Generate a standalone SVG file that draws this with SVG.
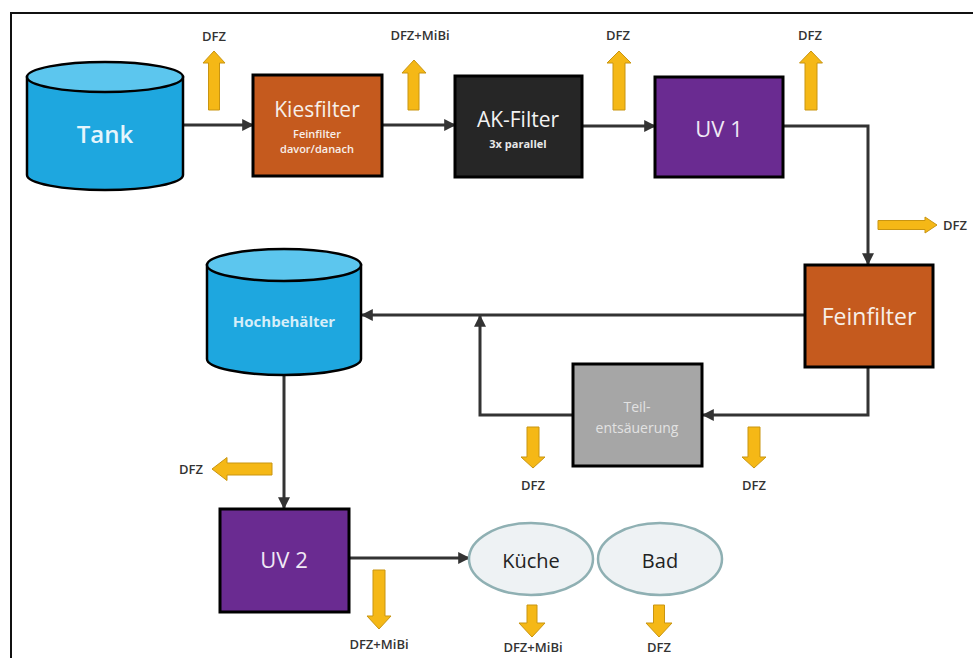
<svg xmlns="http://www.w3.org/2000/svg" width="973" height="658" viewBox="0 0 973 658">
  <defs>
    <marker id="head" viewBox="0 0 10 10" refX="9" refY="5" markerWidth="4" markerHeight="4" orient="auto" markerUnits="strokeWidth">
      <path d="M0,0 L10,5 L0,10 Z" fill="#333"/>
    </marker>
    <style>
      text { font-family: "Open Sans", "Liberation Sans", sans-serif; }
      .frame { fill: none; stroke: #111; stroke-width: 2; }
      .edge { fill: none; stroke: #333; stroke-width: 3; marker-end: url(#head); }
      .box { stroke: #000; stroke-width: 3; }
      .drum { fill: #1ea7df; stroke: #000; stroke-width: 2.5; }
      .drum-top { fill: #5cc6ee; stroke: #000; stroke-width: 2.5; }
      .room { fill: #eef2f4; stroke: #8fb0b3; stroke-width: 2.5; }
      .flow { fill: #f5b816; stroke: #c99511; stroke-width: 1; }
      .lbl { font-size: 13px; font-weight: 600; fill: #333; text-anchor: middle; }
      .big { fill: #f7efe9; text-anchor: middle; }
    </style>
  </defs>

  <rect width="973" height="658" fill="#fff"/>
  <!-- page frame: top and left edges -->
  <path class="frame" d="M11,658 V13 H973"/>

  <!-- connectors -->
  <g id="connectors">
    <path class="edge" d="M183,125 H253"/>
    <path class="edge" d="M382,125 H455"/>
    <path class="edge" d="M582,126 H655"/>
    <path class="edge" d="M783,126 H868 V264"/>
    <path class="edge" d="M805,315 H362"/>
    <path class="edge" d="M868,367 V415 H703"/>
    <path class="edge" d="M573,415 H480 V316"/>
    <path class="edge" d="M284,375 V508"/>
    <path class="edge" d="M349,558 H469"/>
  </g>

  <!-- outflow arrows with labels -->
  <g id="outflows">
    <path class="flow" d="M208.5,110 V63 H203 L214,51 L225,63 H219.5 V110 Z"/>
    <text class="lbl" x="214" y="41">DFZ</text>

    <path class="flow" d="M408,110 V73 H402 L414,60 L426,73 H419 V110 Z"/>
    <text class="lbl" x="420" y="40">DFZ+MiBi</text>

    <path class="flow" d="M613,110 V63 H607 L619,51 L631,63 H625 V110 Z"/>
    <text class="lbl" x="618" y="40">DFZ</text>

    <path class="flow" d="M805,110 V63 H799.5 L811,51 L822.5,63 H817 V110 Z"/>
    <text class="lbl" x="810" y="40">DFZ</text>

    <path class="flow" d="M878,220.5 H925 V217 L937,225 L925,233 V229.5 H878 Z"/>
    <text class="lbl" x="943" y="230" style="text-anchor:start">DFZ</text>

    <path class="flow" d="M527,427 V457 H521 L533,468 L545,457 H539 V427 Z"/>
    <text class="lbl" x="533" y="490">DFZ</text>

    <path class="flow" d="M748,427 V457 H742 L754,468 L766,457 H760 V427 Z"/>
    <text class="lbl" x="754" y="490">DFZ</text>

    <path class="flow" d="M272,463 H227 V457.5 L212,469 L227,480.5 V475 H272 Z"/>
    <text class="lbl" x="203" y="474" style="text-anchor:end">DFZ</text>

    <path class="flow" d="M373,570 V616 H367 L379,629 L391,616 H385 V570 Z"/>
    <text class="lbl" x="379" y="649">DFZ+MiBi</text>

    <path class="flow" d="M527,605 V623 H519 L532,637 L545,623 H537 V605 Z"/>
    <text class="lbl" x="533" y="652">DFZ+MiBi</text>

    <path class="flow" d="M653.5,605 V623 H646 L659,637 L672,623 H664.5 V605 Z"/>
    <text class="lbl" x="659" y="652">DFZ</text>
  </g>

  <!-- nodes -->
  <g id="tank">
    <path class="drum" d="M27,77 V175 A78,15 0 0 0 183,175 V77 Z"/>
    <ellipse class="drum-top" cx="105" cy="77" rx="78" ry="15"/>
    <text x="105" y="143" font-size="24" font-weight="600" fill="#e6f5fc" text-anchor="middle">Tank</text>
  </g>

  <g id="kiesfilter">
    <rect class="box" x="253" y="75" width="129" height="101" fill="#c55a1e"/>
    <text class="big" x="317" y="117" font-size="21">Kiesfilter</text>
    <text class="big" x="317" y="138" font-size="11" font-weight="600">Feinfilter</text>
    <text class="big" x="317" y="153" font-size="11" font-weight="600">davor/danach</text>
  </g>

  <g id="ak-filter">
    <rect class="box" x="455" y="76" width="127" height="101" fill="#262626"/>
    <text x="518" y="127" font-size="21" fill="#f2f2f2" text-anchor="middle">AK-Filter</text>
    <text x="518" y="148" font-size="11" font-weight="700" fill="#e8e8e8" text-anchor="middle">3x parallel</text>
  </g>

  <g id="uv1">
    <rect class="box" x="655" y="77" width="128" height="100" fill="#6a2b91"/>
    <text x="719" y="137" font-size="22" fill="#f0e8f5" text-anchor="middle">UV 1</text>
  </g>

  <g id="feinfilter">
    <rect class="box" x="805" y="265" width="128" height="102" fill="#c55a1e"/>
    <text class="big" x="869" y="325" font-size="23">Feinfilter</text>
  </g>

  <g id="hochbehaelter">
    <path class="drum" d="M207,265 V359 A77,16 0 0 0 361,359 V265 Z"/>
    <ellipse class="drum-top" cx="284" cy="265" rx="77" ry="16"/>
    <text x="284" y="327" font-size="15" font-weight="700" fill="#d6eef9" text-anchor="middle">Hochbehälter</text>
  </g>

  <g id="teilentsaeuerung">
    <rect class="box" x="573" y="364" width="129" height="102" fill="#a6a6a6"/>
    <text x="637" y="412" font-size="14" fill="#e2e2e2" text-anchor="middle">Teil-</text>
    <text x="637" y="433" font-size="14" fill="#e2e2e2" text-anchor="middle">entsäuerung</text>
  </g>

  <g id="uv2">
    <rect class="box" x="220" y="509" width="129" height="103" fill="#6a2b91"/>
    <text x="284" y="568" font-size="22" fill="#f0e8f5" text-anchor="middle">UV 2</text>
  </g>

  <g id="kueche">
    <ellipse class="room" cx="531" cy="559" rx="62" ry="36"/>
    <text x="531" y="568" font-size="20" fill="#222" text-anchor="middle">Küche</text>
  </g>

  <g id="bad">
    <ellipse class="room" cx="660" cy="559" rx="62" ry="36"/>
    <text x="660" y="568" font-size="20" fill="#222" text-anchor="middle">Bad</text>
  </g>
</svg>
